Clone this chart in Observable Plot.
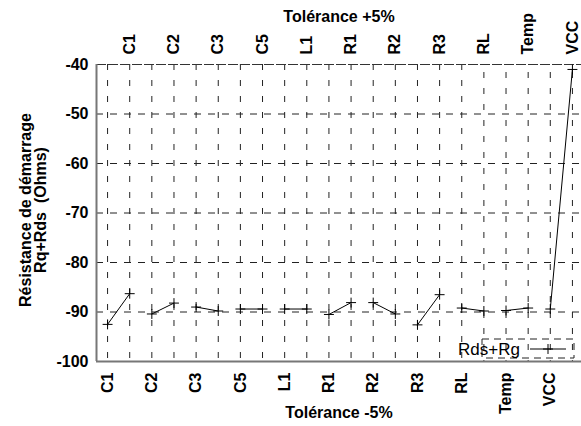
<!DOCTYPE html>
<html>
<head>
<meta charset="utf-8">
<script src="https://cdn.jsdelivr.net/npm/d3@7"></script>
<script src="https://cdn.jsdelivr.net/npm/@observablehq/plot@0.6"></script>
<style>
  html, body { margin: 0; padding: 0; background: #fff; }
  #chart svg { display: block; }
</style>
</head>
<body>
<div id="chart"></div>
<script>
// ---- data ----
const components = ["C1", "C2", "C3", "C5", "L1", "R1", "R2", "R3", "RL", "Temp", "VCC"];
const tolMinus5 = [-92.5, -90.4, -89.0, -89.4, -89.4, -90.5, -88.1, -92.6, -89.2, -89.7, -89.4];
const tolPlus5  = [-86.3, -88.2, -89.8, -89.4, -89.4, -88.1, -90.4, -86.5, -89.8, -89.2, -41.0];
const yTicks = [-40, -50, -60, -70, -80, -90, -100];
const yGrid = [-50, -60, -70, -80, -90];
const seriesName = "Rds+Rg";
const xTitleTop = "Tolérance +5%";
const xTitleBottom = "Tolérance -5%";
const yTitle = "Résistance de démarrage\nRq+Rds  (Ohms)";

// ---- table ----
const rows = components.flatMap((c, i) => [
  {comp: c, tol: "-5%", pos: 2 * i, value: tolMinus5[i]},
  {comp: c, tol: "+5%", pos: 2 * i + 1, value: tolPlus5[i]}
]);
const positions = d3.range(components.length * 2);
const bottomPos = positions.filter(p => p % 2 === 0);
const topPos = positions.filter(p => p % 2 === 1);

const FONT = "'Liberation Sans', Arial, Helvetica, sans-serif";

const chart = Plot.plot({
  width: 581,
  height: 426,
  marginLeft: 96,
  marginRight: 0,
  marginTop: 64,
  marginBottom: 65,
  style: {fontFamily: FONT, fontSize: "16px", fontWeight: "bold", color: "#000", background: "#fff"},
  x: {type: "linear", domain: [-0.5, 21.5], range: [96, 583]},
  y: {domain: [-100, -40]},
  marks: [
    // vertical dashed gridlines
    Plot.ruleX(positions.filter(p => p < 17), {x: d => d, y1: -40, y2: -100, stroke: "#222", strokeWidth: 1, strokeDasharray: "6,10"}),
    Plot.ruleX(positions.filter(p => p >= 17), {x: d => d, y1: -40, y2: -100, stroke: "#222", strokeWidth: 1, strokeDasharray: "6,10", strokeDashoffset: 8}),
    // horizontal dashed gridlines
    Plot.ruleY(yGrid, {stroke: "#222", strokeWidth: 1, strokeDasharray: "7,7"}),
    Plot.ruleY([-40], {stroke: "#333", strokeWidth: 1.2, strokeDasharray: "10,2"}),
    // axis lines
    Plot.ruleX([-0.5], {stroke: "#777", strokeWidth: 2}),
    Plot.ruleY([-100], {stroke: "#777", strokeWidth: 2}),
    // data
    Plot.line(rows, {x: "pos", y: "value", z: "comp", stroke: "#000", strokeWidth: 1}),
    Plot.dot(rows, {x: "pos", y: "value", symbol: "plus", r: 3.3, stroke: "#000", strokeWidth: 1}),
    // axes
    Plot.axisX(bottomPos, {anchor: "bottom", tickFormat: p => components[p / 2], tickRotate: -90, tickSize: 0, tickPadding: 11, label: null, fontSize: 16, fontWeight: "bold"}),
    Plot.axisX(topPos, {anchor: "top", tickFormat: p => components[(p - 1) / 2], tickRotate: -90, tickSize: 0, tickPadding: 10, label: null, fontSize: 16, fontWeight: "bold"}),
    Plot.axisY(yTicks, {anchor: "left", tickFormat: d => String(d), tickSize: 0, tickPadding: 8, label: null, fontSize: 16, fontWeight: "bold"}),
    // titles
    Plot.text([xTitleTop], {frameAnchor: "top", dy: -47.5, lineAnchor: "middle", fontSize: 16, fontWeight: "bold", fill: "#000"}),
    Plot.text([xTitleBottom], {frameAnchor: "bottom", dy: 51, lineAnchor: "middle", fontSize: 16, fontWeight: "bold", fill: "#000"}),
    Plot.text([yTitle], {frameAnchor: "left", dx: -63, dy: -3, rotate: -90, lineAnchor: "middle", textAnchor: "middle", lineHeight: 0.95, fontSize: 16, fontWeight: "bold", fill: "#000"})
  ]
});

document.getElementById("chart").appendChild(chart);

// ---- legend (drawn inside the svg) ----
const svg = d3.select(chart);
const lg = svg.append("g").attr("class", "legend");
lg.append("rect")
  .attr("x", 482).attr("y", 339).attr("width", 92).attr("height", 19)
  .attr("fill", "none").attr("stroke", "#222").attr("stroke-width", 1)
  .attr("stroke-dasharray", "7,5");
lg.append("text")
  .attr("x", 458).attr("y", 355)
  .attr("text-anchor", "start")
  .attr("font-family", FONT).attr("font-size", 17).attr("font-weight", "normal")
  .attr("fill", "#000")
  .text(seriesName);
lg.append("line")
  .attr("x1", 530).attr("x2", 566).attr("y1", 349).attr("y2", 349)
  .attr("stroke", "#000").attr("stroke-width", 1);
lg.append("path")
  .attr("transform", "translate(548,349)")
  .attr("d", d3.symbol(d3.symbolPlus, Math.PI * 3.3 * 3.3)())
  .attr("fill", "none").attr("stroke", "#000").attr("stroke-width", 1);
</script>
</body>
</html>
